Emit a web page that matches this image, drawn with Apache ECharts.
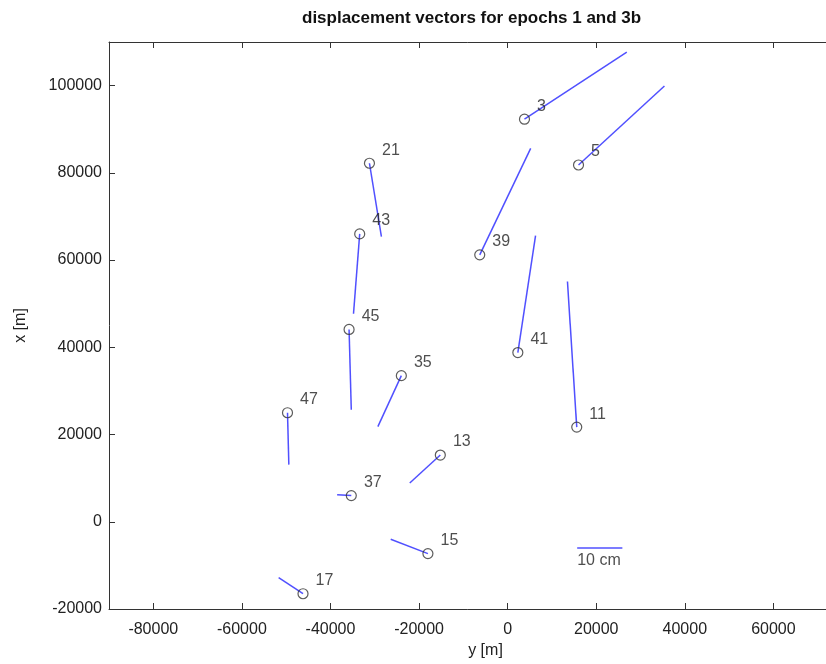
<!DOCTYPE html>
<html>
<head>
<meta charset="utf-8">
<script src="https://cdn.jsdelivr.net/npm/echarts@6/dist/echarts.min.js"></script>
<style>
  html, body { margin: 0; padding: 0; background: #fff; }
  #chart { width: 826px; height: 664px; }
</style>
</head>
<body>
<div id="chart"></div>
<script>
    // station numbers
    var stationIds = ['3', '5', '21', '43', '45', '35', '47', '13', '37', '15', '17', '39', '41', '11'];
    // station position (horizontal = y [m], vertical = x [m])
    var stationE = [3800, 16000, -31200, -33400, -35800, -24000, -49700, -15200, -35300, -18000, -46200, -6300, 2300, 15600];
    var stationN = [92300, 81800, 82200, 66000, 44100, 33500, 25000, 15300, 6000, -7300, -16500, 61200, 38800, 21700];
    // end point of the (scaled) displacement vector
    var vectorE = [26900, 35400, -28500, -34800, -35300, -29300, -49400, -22100, -38500, -26400, -51700, 5200, 6300, 13500];
    var vectorN = [107700, 99900, 65400, 47700, 25700, 21800, 13100, 8900, 6200, -4000, -12800, 85600, 65600, 55100];
    // scale bar: 10 cm
    var scaleBarE = [15700, 25900];
    var scaleBarN = -6000;
    var scaleBarText = '10 cm';
    // tick labels
    var xTicks = [-80000, -60000, -40000, -20000, 0, 20000, 40000, 60000, 80000];
    var yTicks = [-20000, 0, 20000, 40000, 60000, 80000, 100000];

    var font = 'Liberation Sans';
    var axisColor = '#333';
    var vecColor = '#5050ff';

    // 矢量线段
    var vectorData = stationIds.map(function(id, i) {
        return { coords: [[stationE[i], stationN[i]], [vectorE[i], vectorN[i]]] };
    });
    vectorData.push({ coords: [[scaleBarE[0], scaleBarN], [scaleBarE[1], scaleBarN]] });

    var stationData = stationIds.map(function(id, i) {
        return [stationE[i], stationN[i], id];
    });

    // 坐标轴（MATLAB 风格：刻度朝内，四周封闭）
    function makeAxis(pos, min, max, ticks, showLabel, margin) {
        return {
            type: 'value',
            position: pos,
            min: min,
            max: max,
            axisLine: { show: true, onZero: false, lineStyle: { color: axisColor, width: 1 } },
            axisTick: { show: true, inside: true, length: 6, customValues: ticks, lineStyle: { color: axisColor } },
            splitLine: { show: false },
            axisLabel: {
                show: showLabel,
                customValues: ticks,
                margin: margin,
                color: '#222',
                fontFamily: font,
                fontSize: 16,
                formatter: function(v) { return String(v); }
            },
            nameTextStyle: { color: '#222', fontFamily: font, fontSize: 16 }
        };
    }

    var xBottom = makeAxis('bottom', -90000, 80000, xTicks, true, 13);
    xBottom.name = 'y [m]';
    xBottom.nameLocation = 'middle';
    xBottom.nameGap = 31;
    var yLeft = makeAxis('left', -20000, 110000, yTicks, true, 7);
    yLeft.name = 'x [m]';
    yLeft.nameLocation = 'middle';
    yLeft.nameGap = 80;

    var chart = echarts.init(document.getElementById('chart'));
    chart.setOption({
        animation: false,
        backgroundColor: '#fff',
        title: {
            text: 'displacement vectors for epochs 1 and 3b',
            left: 297,
            top: 5,
            textStyle: { fontFamily: font, fontSize: 17, fontWeight: 'bold', color: '#111' }
        },
        grid: { left: 109, top: 42, width: 753, height: 567, outerBoundsMode: 'none', containLabel: false },
        xAxis: [xBottom, makeAxis('top', -90000, 80000, xTicks, false, 8)],
        yAxis: [yLeft, makeAxis('right', -20000, 110000, yTicks, false, 8)],
        series: [
            {
                type: 'lines',
                coordinateSystem: 'cartesian2d',
                xAxisIndex: 0,
                yAxisIndex: 0,
                silent: true,
                lineStyle: { color: vecColor, width: 1.5, opacity: 1 },
                data: vectorData
            },
            {
                type: 'scatter',
                xAxisIndex: 0,
                yAxisIndex: 0,
                symbol: 'circle',
                symbolSize: 10,
                itemStyle: { color: 'rgba(0,0,0,0)', borderColor: '#333', borderWidth: 1.2 },
                label: {
                    show: true,
                    position: 'right',
                    distance: 5,
                    offset: [2, -13],
                    formatter: function(p) { return p.value[2]; },
                    color: '#222',
                    fontFamily: font,
                    fontSize: 16
                },
                data: stationData
            },
            {
                type: 'scatter',
                xAxisIndex: 0,
                yAxisIndex: 0,
                symbolSize: 0,
                silent: true,
                label: {
                    show: true,
                    position: [0, 5],
                    align: 'left',
                    verticalAlign: 'top',
                    formatter: scaleBarText,
                    color: '#222',
                    fontFamily: font,
                    fontSize: 16
                },
                data: [[scaleBarE[0], scaleBarN]]
            }
        ]
    });
</script>
</body>
</html>
